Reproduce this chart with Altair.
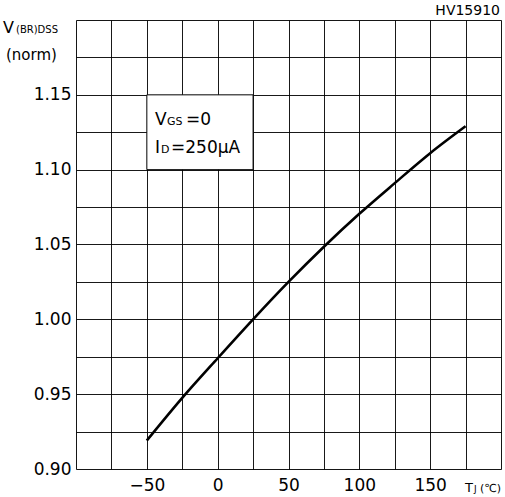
import altair as alt
import pandas as pd

# Data
temps = [-50, -25, 0, 25, 50, 75, 100, 125, 150, 175]
vnorm = [0.919, 0.9475, 0.974, 1.000, 1.025, 1.0485, 1.0705, 1.091, 1.111, 1.129]

x_grid = [-100, -75, -50, -25, 0, 25, 50, 75, 100, 125, 150, 175, 200]
y_grid = [0.9, 0.925, 0.95, 0.975, 1.0, 1.025, 1.05, 1.075, 1.1, 1.125, 1.15, 1.175, 1.2]

box_x = [-50, 25]
box_y = [1.10, 1.15]

FONT = "DejaVu Sans"

df = pd.DataFrame({"T": temps, "V": vnorm})

xscale = alt.Scale(domain=[-100, 200], nice=False, zero=False)
yscale = alt.Scale(domain=[0.9, 1.2], nice=False, zero=False)

xaxis = alt.Axis(
    values=x_grid, title=None, ticks=False, domain=False,
    labelExpr="(datum.value % 50 == 0 && datum.value > -100 && datum.value < 200) ? datum.label : ''",
    labelFont=FONT, labelFontSize=17, labelColor="black", labelPadding=8,
    grid=True, gridColor="black", gridWidth=1, gridOpacity=0.9, labelFlush=False,
    labelOverlap=False,
)
yaxis = alt.Axis(
    values=y_grid, title=None, ticks=False, domain=False,
    labelExpr="(round(datum.value*1000) % 50 == 0 && datum.value < 1.19) ? format(datum.value, '.2f') : ''",
    labelFont=FONT, labelFontSize=17, labelColor="black", labelPadding=5,
    grid=True, gridColor="black", gridWidth=1, gridOpacity=0.9, labelFlush=False,
    labelOverlap=False,
)

curve = alt.Chart(df).mark_line(color="black", strokeWidth=2.6, interpolate="monotone").encode(
    x=alt.X("T:Q", scale=xscale, axis=xaxis),
    y=alt.Y("V:Q", scale=yscale, axis=yaxis),
)

box = alt.Chart(alt.InlineData(values=[{"x1": box_x[0], "x2": box_x[1], "y1": box_y[0], "y2": box_y[1]}])).mark_rect(
    fill="white", stroke="black", strokeWidth=1
).encode(
    x=alt.X("x1:Q", scale=xscale, axis=xaxis),
    x2="x2:Q",
    y=alt.Y("y1:Q", scale=yscale, axis=yaxis),
    y2="y2:Q",
)


def label(txt, x, y, size, align="left", weight="normal"):
    return alt.Chart(alt.InlineData(values=[{"t": txt}])).mark_text(
        align=align, baseline="alphabetic", fontSize=size, font=FONT,
        color="black", fontWeight=weight,
    ).encode(x=alt.value(x), y=alt.value(y), text="t:N")


texts = [
    # annotation box
    label("V", 79, 105, 17),
    label("GS", 91, 105, 11),
    label("=0", 110, 105, 17),
    label("I", 79, 133, 17),
    label("D", 85, 133, 11),
    label("=250μA", 95, 133, 17),
    # y title
    label("V", -73, 13, 16),
    label("(BR)DSS", -60, 13, 10),
    label("(norm)", -70, 40, 15),
    # x title
    label("T", 389, 472, 13),
    label("J", 398, 472, 9),
    label("(℃)", 404, 472, 11),
    # code
    label("HV15910", 424, -5, 14, align="right"),
]

chart = alt.layer(box, curve, *texts).properties(
    width=425, height=449,
    autosize=alt.AutoSizeParams(type="none"),
    padding={"left": 76, "top": 20, "right": 4, "bottom": 28},
).configure_view(stroke="black", strokeWidth=2).configure(background="white")

chart.save("out.html", embed_options={"renderer": "svg", "actions": False})
